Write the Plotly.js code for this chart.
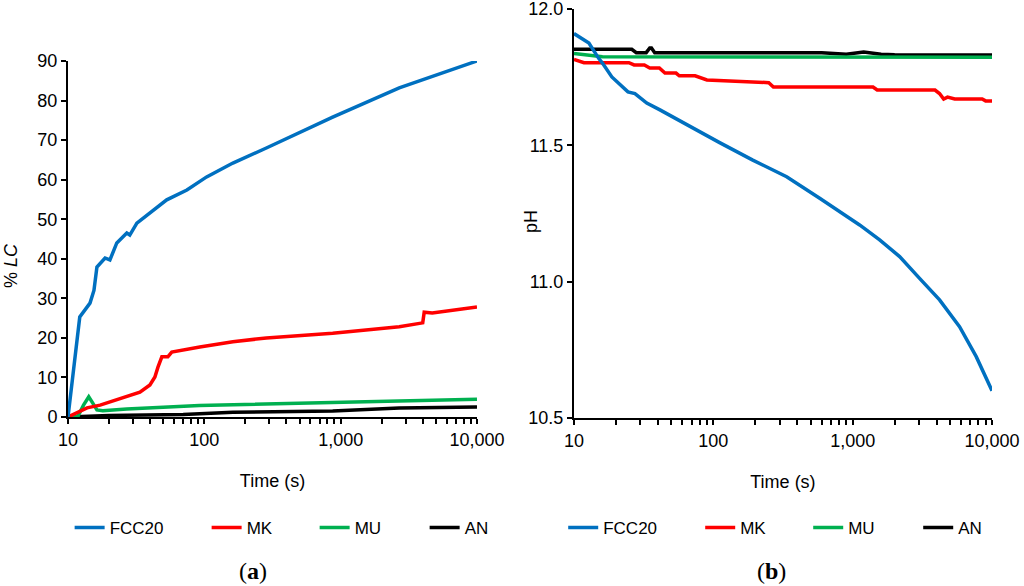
<!DOCTYPE html>
<html>
<head>
<meta charset="utf-8">
<script src="https://cdn.plot.ly/plotly-3.0.1.min.js"></script>
<style>
  html, body { margin: 0; padding: 0; background: #fff; }
  #chart { width: 1024px; height: 586px; }
</style>
</head>
<body>
<div id="chart"></div>
<script>
// (a) % LC against time
const lcTimeFcc = [10, 12.2, 14.5, 15.5, 16.3, 18.7, 20.3, 22.8, 27, 28.4, 32, 36.6, 44.8, 53, 74.5, 104, 162, 285, 874, 2690, 10000];
const lcFcc = [0, 25.3, 28.8, 32, 37.9, 40.2, 39.7, 44, 46.5, 46, 49, 50.6, 52.8, 54.9, 57.4, 60.7, 64.2, 68, 75.8, 83.2, 90];

const lcTimeMk = [10, 13.8, 17.2, 20.3, 27, 33.7, 39.9, 43.4, 45.7, 48.8, 54, 57.7, 92.6, 162, 285, 874, 2690, 4000, 4100, 4700, 10000];
const lcMk = [0, 2.3, 3, 3.8, 5.1, 6.3, 8.1, 10.1, 12.6, 15.2, 15.2, 16.4, 17.7, 19, 20, 21.2, 22.8, 23.8, 26.5, 26.3, 27.8];

const lcTimeMu = [10, 11.8, 13, 14.2, 15.2, 16.3, 18, 27, 92, 874, 10000];
const lcMu = [0, 0.1, 3, 5.1, 3.5, 1.8, 1.6, 2, 2.9, 3.6, 4.5];

const lcTimeAn = [10, 20, 70, 162, 874, 2690, 10000];
const lcAn = [0, 0.4, 0.6, 1.2, 1.5, 2.3, 2.5];

// (b) pH against time
const phTimeFcc = [10, 12.8, 15, 16.1, 18.7, 24.4, 27.4, 33.3, 41.4, 64.6, 111, 192, 336, 580, 807, 1122, 1562, 2173, 3022, 4204, 5849, 7706, 10000];
const phFcc = [11.91, 11.875, 11.82, 11.80, 11.751, 11.696, 11.69, 11.655, 11.63, 11.575, 11.51, 11.446, 11.385, 11.306, 11.257, 11.208, 11.153, 11.092, 11.012, 10.933, 10.835, 10.725, 10.60];

const phTimeMk = [10, 11.8, 24.8, 27, 32, 35, 41, 45, 54, 57, 74, 90, 250, 270, 1400, 1500, 3900, 4200, 4500, 4800, 5400, 8500, 9000, 10000];
const phMk = [11.815, 11.803, 11.803, 11.795, 11.795, 11.784, 11.784, 11.765, 11.765, 11.755, 11.755, 11.74, 11.73, 11.714, 11.714, 11.703, 11.703, 11.69, 11.67, 11.677, 11.67, 11.67, 11.663, 11.663];

const phTimeMu = [10, 13.2, 16, 10000];
const phMu = [11.837, 11.831, 11.825, 11.823];

const phTimeAn = [10, 26, 28, 33, 35, 36, 38, 600, 900, 1200, 1600, 2000, 10000];
const phAn = [11.852, 11.852, 11.84, 11.84, 11.857, 11.857, 11.84, 11.84, 11.834, 11.842, 11.834, 11.832, 11.831];

const seriesNames = ['FCC20', 'MK', 'MU', 'AN'];
const seriesColors = ['#0070C0', '#FF0000', '#00B050', '#000000'];
const legendWidths = [92, 63, 65, 40];

const xTickVals = [10, 100, 1000, 10000];
const xTickText = ['10', '100', '1,000', '10,000'];
const minorVals = [];
[10, 100, 1000].forEach(d => { for (let k = 2; k <= 9; k++) minorVals.push(d * k); });

const lcX = [lcTimeFcc, lcTimeMk, lcTimeMu, lcTimeAn];
const lcY = [lcFcc, lcMk, lcMu, lcAn];
const phX = [phTimeFcc, phTimeMk, phTimeMu, phTimeAn];
const phY = [phFcc, phMk, phMu, phAn];

const traces = [];
// black/green drawn first so red and blue sit on top; legendrank keeps legend order
[3, 2, 1, 0].forEach(i => {
    traces.push({
        x: lcX[i], y: lcY[i], type: 'scatter', mode: 'lines',
        name: seriesNames[i], legend: 'legend', legendrank: i + 1, legendwidth: legendWidths[i],
        line: { color: seriesColors[i], width: 3.5 },
        xaxis: 'x', yaxis: 'y'
    });
});
[3, 2, 1, 0].forEach(i => {
    traces.push({
        x: phX[i], y: phY[i], type: 'scatter', mode: 'lines',
        name: seriesNames[i], legend: 'legend2', legendrank: i + 1, legendwidth: legendWidths[i],
        line: { color: seriesColors[i], width: 3.5 },
        xaxis: 'x2', yaxis: 'y2'
    });
});

const font = { family: 'Liberation Sans, Arial, sans-serif', size: 18, color: '#000' };
const serif = { family: 'Liberation Serif, Times New Roman, serif', size: 24, color: '#000' };

function xAxis(domain, anchor) {
    return {
        type: 'log', domain: domain, anchor: anchor,
        range: [1, 4], tickvals: xTickVals, ticktext: xTickText,
        ticks: 'outside', ticklen: 5, tickwidth: 2, tickcolor: '#000',
        minor: { tickvals: minorVals, ticks: 'outside', ticklen: 5, tickwidth: 2, tickcolor: '#000', showgrid: false },
        showline: true, linewidth: 2, linecolor: '#000',
        showgrid: false, zeroline: false, tickfont: font, ticklabeloverflow: 'allow',
        title: { text: 'Time (s)', font: font, standoff: 26 }
    };
}

function yAxis(domain, anchor, range, dtick, fmt) {
    return {
        domain: domain, anchor: anchor, range: range, dtick: dtick, tickformat: fmt,
        ticks: 'outside', ticklen: 5, tickwidth: 2, tickcolor: '#000',
        showline: true, linewidth: 2, linecolor: '#000',
        showgrid: false, zeroline: false, tickfont: font, ticklabeloverflow: 'allow'
    };
}

function legendBox(x) {
    return {
        orientation: 'h', x: x, y: 0.099, xanchor: 'left', yanchor: 'middle',
        font: { family: font.family, size: 17, color: '#000' },
        traceorder: 'normal'
    };
}

const layout = {
    width: 1024, height: 586,
    margin: { l: 0, r: 0, t: 0, b: 0 },
    paper_bgcolor: '#fff', plot_bgcolor: '#fff',
    font: font,
    xaxis: xAxis([0.0664, 0.4658], 'y'),
    yaxis: yAxis([0.2884, 0.8959], 'x', [0, 90], 10, ''),
    xaxis2: xAxis([0.5605, 0.96875], 'y2'),
    yaxis2: yAxis([0.2867, 0.9846], 'x2', [10.5, 12.0], 0.5, '.1f'),
    legend: legendBox(0.068),
    legend2: legendBox(0.55),
    annotations: [
        { text: '% <i>LC</i>', xref: 'paper', yref: 'paper', x: 11 / 1024, y: 1 - 266 / 586,
          xanchor: 'center', yanchor: 'middle', textangle: -90, showarrow: false, font: font },
        { text: 'pH', xref: 'paper', yref: 'paper', x: 531 / 1024, y: 1 - 222 / 586,
          xanchor: 'center', yanchor: 'middle', textangle: -90, showarrow: false, font: font },
        { text: '(<b>a</b>)', xref: 'paper', yref: 'paper', x: 253 / 1024, y: 1 - 571 / 586,
          xanchor: 'center', yanchor: 'middle', showarrow: false, font: serif },
        { text: '(<b>b</b>)', xref: 'paper', yref: 'paper', x: 771 / 1024, y: 1 - 571 / 586,
          xanchor: 'center', yanchor: 'middle', showarrow: false, font: serif }
    ]
};

Plotly.newPlot('chart', traces, layout, { displayModeBar: false, staticPlot: true });
</script>
</body>
</html>
